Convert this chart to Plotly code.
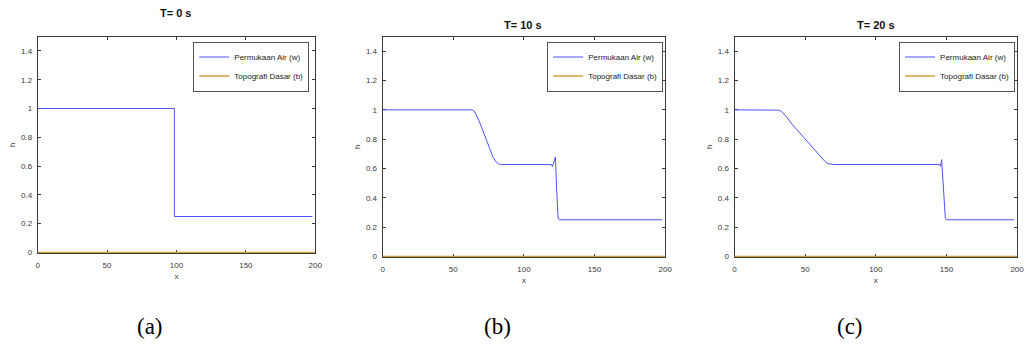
import plotly.graph_objects as go
from plotly.subplots import make_subplots

# ---------------- data ----------------
titles = ["T= 0 s", "T= 10 s", "T= 20 s"]
panel_labels = ["(a)", "(b)", "(c)"]
series_names = ["Permukaan Air (w)", "Topografi Dasar (b)"]

x_t0 = [0, 98.5, 98.5, 198]
w_t0 = [1.0, 1.0, 0.25, 0.25]

x_t10 = [0, 63.5, 65, 66.5, 68, 70, 72, 74, 76, 78, 80, 82, 84,
         119.4, 120.2, 121.3, 122.3, 123.2, 124.2, 125.0, 198]
w_t10 = [1.0, 1.0, 0.99, 0.965, 0.93, 0.882, 0.83, 0.78, 0.727, 0.68, 0.648, 0.632, 0.627,
         0.627, 0.612, 0.64, 0.678, 0.45, 0.262, 0.25, 0.25]

x_t20 = [0, 29, 31, 33, 35, 37, 40, 45, 50, 55, 58, 60, 62, 64, 66, 68, 70,
         145.0, 145.8, 146.6, 147.9, 149.2, 150.0, 198]
w_t20 = [1.0, 1.0, 0.998, 0.99, 0.972, 0.95, 0.91, 0.855, 0.80, 0.745, 0.712, 0.69, 0.668, 0.648, 0.634, 0.628, 0.627,
         0.627, 0.615, 0.66, 0.45, 0.262, 0.25, 0.25]

x_bed = [0, 200]
b_bed = [0.0, 0.0]

x_ticks = [0, 50, 100, 150, 200]
y_ticks = [0, 0.2, 0.4, 0.6, 0.8, 1, 1.2, 1.4]
y_ticktext = ["0", "0.2", "0.4", "0.6", "0.8", "1", "1.2", "1.4"]

water = [(x_t0, w_t0), (x_t10, w_t10), (x_t20, w_t20)]

# ---------------- styling ----------------
W, H = 1032, 347
BLUE = "rgb(80,80,255)"
GOLD = "#cfa042"
AXC = "#3a3a3a"
SANS = "Liberation Sans, Arial, sans-serif"

def px_x(p):
    return p / W

def px_y(p):
    return 1 - p / H

# plot-area boxes in pixels: (left, right, top, bottom)
boxes = [(36, 316, 37, 256), (384, 669, 37, 260), (739, 1024, 37, 260)]
title_pos = [(176, 13), (526, 25), (882, 25)]
label_pos = [(149, 330), (500, 330), (855, 330)]
legend_right = [310, 667, 1022]

fig = make_subplots(rows=1, cols=3)

for i, (xw, yw) in enumerate(water):
    leg = "legend" if i == 0 else f"legend{i+1}"
    fig.add_trace(go.Scatter(x=xw, y=yw, mode="lines", name=series_names[0],
                             line=dict(color=BLUE, width=1), legend=leg),
                  row=1, col=i + 1)
    fig.add_trace(go.Scatter(x=x_bed, y=b_bed, mode="lines", name=series_names[1],
                             line=dict(color=GOLD, width=1.3), legend=leg),
                  row=1, col=i + 1)

layout = dict(
    width=W, height=H,
    margin=dict(l=0, r=0, t=0, b=0),
    paper_bgcolor="white", plot_bgcolor="white",
    font=dict(family=SANS, size=8, color=AXC),
    showlegend=True,
)

for i, (l, r, t, b) in enumerate(boxes):
    xa = "xaxis" if i == 0 else f"xaxis{i+1}"
    ya = "yaxis" if i == 0 else f"yaxis{i+1}"
    layout[xa] = dict(
        domain=[px_x(l), px_x(r)], range=[0, 200],
        tickvals=x_ticks, ticks="inside", ticklen=3, tickcolor=AXC,
        showline=True, linecolor=AXC, linewidth=1, mirror="allticks",
        showgrid=False, zeroline=False, layer="below traces",
        tickfont=dict(size=8, color=AXC), ticklabelstandoff=4,
        title=dict(text="x", font=dict(size=8, color=AXC), standoff=4),
    )
    layout[ya] = dict(
        domain=[px_y(b), px_y(t)], range=[-0.004, 1.5],
        tickvals=y_ticks, ticktext=y_ticktext, ticks="inside", ticklen=3, tickcolor=AXC,
        showline=True, linecolor=AXC, linewidth=1, mirror="allticks",
        showgrid=False, zeroline=False, layer="below traces",
        tickfont=dict(size=8, color=AXC), ticklabelstandoff=3,
        title=dict(text="h", font=dict(size=8, color=AXC), standoff=4),
    )
    leg = "legend" if i == 0 else f"legend{i+1}"
    layout[leg] = dict(
        x=px_x(legend_right[i]), xanchor="right",
        y=px_y(42), yanchor="top",
        bgcolor="white", bordercolor="#555", borderwidth=1,
        font=dict(family=SANS, size=8, color="#222"),
        itemwidth=30, tracegroupgap=0,
    )

fig.update_layout(**layout)

annotations = []
for i in range(3):
    tx, ty = title_pos[i]
    annotations.append(dict(
        text="<b>" + titles[i] + "</b>", x=px_x(tx), y=px_y(ty),
        xref="paper", yref="paper", xanchor="center", yanchor="middle",
        showarrow=False, font=dict(family=SANS, size=11, color="#111"),
    ))
    lx, ly = label_pos[i]
    annotations.append(dict(
        text=panel_labels[i], x=px_x(lx), y=px_y(ly),
        xref="paper", yref="paper", xanchor="center", yanchor="middle",
        showarrow=False, font=dict(family="Liberation Serif, Times New Roman, serif", size=23, color="black"),
    ))
fig.update_layout(annotations=annotations)

fig.write_html("out.html", config={"displayModeBar": False},
               post_script="document.body.style.margin='0';")
